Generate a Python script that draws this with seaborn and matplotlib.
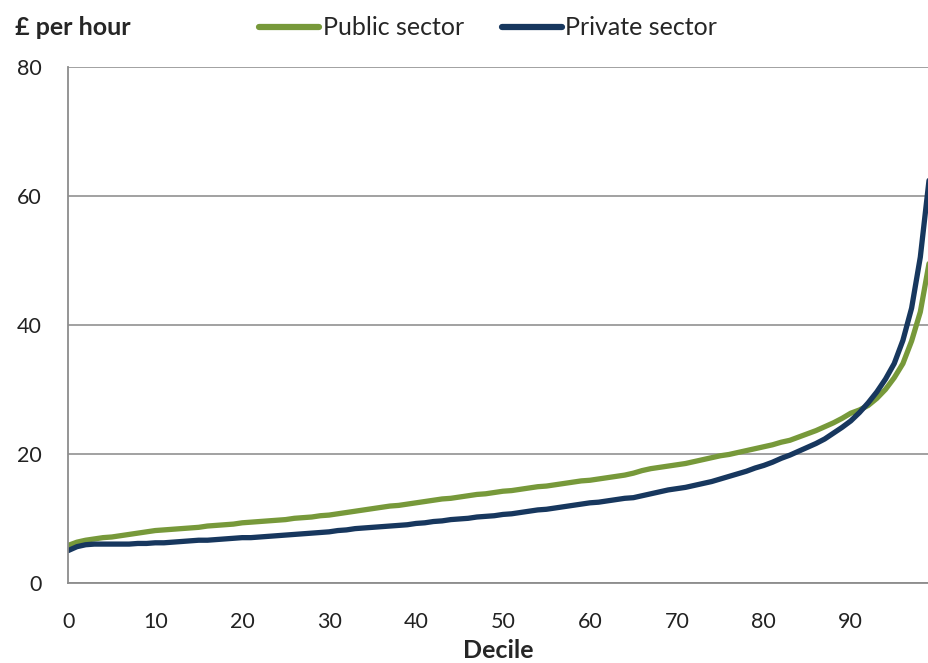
import seaborn as sns
import matplotlib.pyplot as plt
import pandas as pd
import numpy as np

# hourly pay by percentile
percentile = list(range(100))
public_sector = [
    5.8, 6.3, 6.6, 6.8, 7.0, 7.1, 7.3, 7.5, 7.7, 7.9,
    8.1, 8.2, 8.3, 8.4, 8.5, 8.6, 8.8, 8.9, 9.0, 9.1,
    9.3, 9.4, 9.5, 9.6, 9.7, 9.8, 10.0, 10.1, 10.2, 10.4,
    10.5, 10.7, 10.9, 11.1, 11.3, 11.5, 11.7, 11.9, 12.0, 12.2,
    12.4, 12.6, 12.8, 13.0, 13.1, 13.3, 13.5, 13.7, 13.8, 14.0,
    14.2, 14.3, 14.5, 14.7, 14.9, 15.0, 15.2, 15.4, 15.6, 15.8,
    15.9, 16.1, 16.3, 16.5, 16.7, 17.0, 17.4, 17.7, 17.9, 18.1,
    18.3, 18.5, 18.8, 19.1, 19.4, 19.7, 19.9, 20.2, 20.5, 20.8,
    21.1, 21.4, 21.8, 22.1, 22.6, 23.1, 23.6, 24.2, 24.8, 25.5,
    26.3, 26.8, 27.5, 28.6, 30.0, 31.8, 34.0, 37.5, 42.0, 49.5,
]
private_sector = [
    5.0, 5.6, 5.9, 6.0, 6.0, 6.0, 6.0, 6.0, 6.1, 6.1,
    6.2, 6.2, 6.3, 6.4, 6.5, 6.6, 6.6, 6.7, 6.8, 6.9,
    7.0, 7.0, 7.1, 7.2, 7.3, 7.4, 7.5, 7.6, 7.7, 7.8,
    7.9, 8.1, 8.2, 8.4, 8.5, 8.6, 8.7, 8.8, 8.9, 9.0,
    9.2, 9.3, 9.5, 9.6, 9.8, 9.9, 10.0, 10.2, 10.3, 10.4,
    10.6, 10.7, 10.9, 11.1, 11.3, 11.4, 11.6, 11.8, 12.0, 12.2,
    12.4, 12.5, 12.7, 12.9, 13.1, 13.2, 13.5, 13.8, 14.1, 14.4,
    14.6, 14.8, 15.1, 15.4, 15.7, 16.1, 16.5, 16.9, 17.3, 17.8,
    18.2, 18.7, 19.3, 19.8, 20.4, 21.0, 21.6, 22.3, 23.2, 24.1,
    25.1, 26.4, 27.9, 29.6, 31.6, 34.0, 37.6, 42.6, 50.5, 62.4,
]
sectors = ["Public sector", "Private sector"]
colours = {"Public sector": "#77993A", "Private sector": "#17375E"}
y_ticks = [0, 20, 40, 60, 80]
x_ticks = [0, 10, 20, 30, 40, 50, 60, 70, 80, 90]

df = pd.DataFrame({
    "Percentile": percentile * 2,
    "Pay": public_sector + private_sector,
    "Sector": [sectors[0]] * len(percentile) + [sectors[1]] * len(percentile),
})

sns.set_style("white")
plt.rcParams["font.family"] = ["Lato", "DejaVu Sans"]

fig = plt.figure(figsize=(9.29, 6.63), dpi=100)
ax = fig.add_axes([0.0735, 0.121, 0.9265, 0.778])

sns.lineplot(data=df, x="Percentile", y="Pay", hue="Sector", hue_order=sectors,
             palette=colours, linewidth=3.8, ax=ax, legend=False)

ax.set_xlim(0, 99)
ax.set_ylim(0, 80)
ax.set_yticks(y_ticks)
ax.set_xticks(x_ticks)
ax.yaxis.grid(True, color="#9a9a9a", linewidth=1.3)
ax.set_axisbelow(True)
for side in ["top", "right"]:
    ax.spines[side].set_visible(False)
for side in ["left", "bottom"]:
    ax.spines[side].set_color("#8c8c8c")
    ax.spines[side].set_linewidth(1.3)
ax.tick_params(axis="both", direction="out", length=7, width=1.3, color="#8c8c8c",
               labelsize=15.5, labelcolor="#222222")
ax.tick_params(axis="x", pad=14)
ax.tick_params(axis="y", pad=12)

ax.set_xlabel("Decile", fontsize=18, fontweight="bold", labelpad=5)
ax.set_ylabel("")
fig.text(0.016, 0.958, "£ per hour", fontsize=18, fontweight="bold", va="center", ha="left")

handles = [plt.Line2D([], [], color=colours[s], linewidth=4.5) for s in sectors]
fig.legend(handles, sectors, loc="center left", bbox_to_anchor=(0.279, 0.958), ncol=2,
           frameon=False, fontsize=18, handlelength=2.4, handletextpad=0.15,
           columnspacing=1.5, borderpad=0, borderaxespad=0)

fig.savefig("out.png", dpi=100)
plt.close(fig)
